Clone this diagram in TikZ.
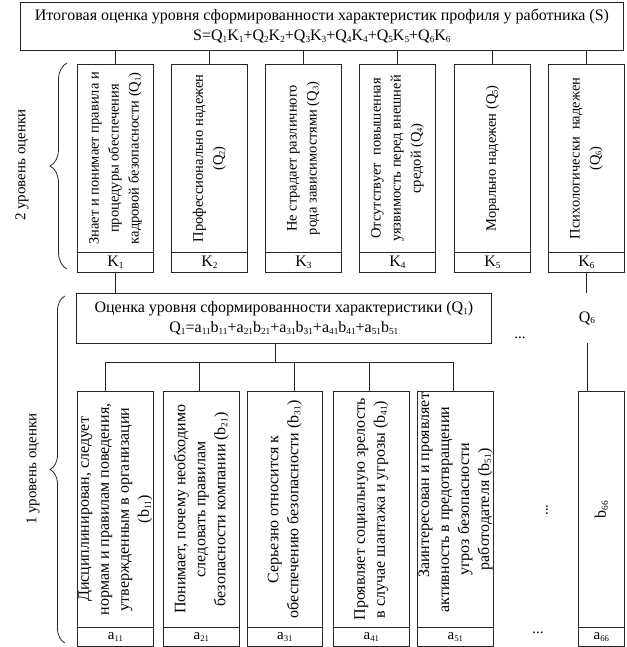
\documentclass[tikz,border=0pt]{standalone}
\usepackage{fontspec}
\usepackage{graphicx}
\setmainfont{Liberation Serif}
\usetikzlibrary{decorations.pathreplacing}
\newcommand\sbx[1]{\raisebox{-0.12em}{\scalebox{0.58}{#1}}}
\begin{document}
\begin{tikzpicture}[x=1pt,y=-1pt,
  ln/.style={line width=0.8pt, draw=black!85},
  box/.style={ln, draw, inner sep=0pt, anchor=north west},
  rottwo/.style={rotate=90, align=center, inner sep=0pt, font=\fontsize{14.5}{20}\selectfont},
  rotone/.style={rotate=90, align=center, inner sep=0pt, font=\fontsize{16}{20}\selectfont},
  lbl/.style={inner sep=0pt, font=\fontsize{15}{18}\selectfont},
  brc/.style={ln, decorate},
  ttl/.style={align=center, font=\fontsize{16}{20}\selectfont}]
\useasboundingbox (0,0) rectangle (626,647);

% top box
\node[box, ttl, minimum width=603pt, minimum height=48pt] (top) at (20,2)
 {Итоговая оценка уровня сформированности характеристик профиля у работника (S)\\
  S=Q\sbx{1}K\sbx{1}+Q\sbx{2}K\sbx{2}+Q\sbx{3}K\sbx{3}+Q\sbx{4}K\sbx{4}+Q\sbx{5}K\sbx{5}+Q\sbx{6}K\sbx{6}};

% level 2 boxes
\foreach \i/\x in {1/77,2/171,3/265,4/359,5/454,6/548} {
  \node[box, minimum width=76pt, minimum height=188pt] (q\i) at (\x,64) {};
  \node[box, lbl, font=\fontsize{16}{18}\selectfont, minimum width=76pt, minimum height=20pt] (k\i) at (\x,252) {K\sbx{\i}};
  \draw[ln] (q\i.north) -- (q\i.north |- top.south);
}
\node[rottwo] (q1t) at (q1.center) {Знает и понимает правила и\\процедуры обеспечения\\кадровой безопасности (Q\sbx{1})};
\node[rottwo] (q2t) at (q2.center) {Профессионально надежен\\(Q\sbx{2})};
\node[rottwo] (q3t) at (q3.center) {Не страдает различного\\рода зависимостями (Q\sbx{3})};
\node[rottwo] (q4t) at (q4.center) {Отсутствует\ \ повышенная\\уязвимость перед внешней\\средой (Q\sbx{4})};
\node[rottwo] (q5t) at (q5.center) {Морально надежен (Q\sbx{5})};
\node[rottwo] (q6t) at (q6.center) {Психологически\ \ надежен\\(Q\sbx{6})};

% level 2 brace
\coordinate (b2lo) at (67,269);
\coordinate (b2hi) at (67,63);
\draw[brc, decoration={brace, amplitude=17pt}] (b2lo) -- (b2hi);
\node[lbl, rotate=90] (lev2) at (22,165) {2 уровень оценки};

% Q1 box
\node[box, ttl, minimum width=415pt, minimum height=50pt] (qq) at (76,293)
 {Оценка уровня сформированности характеристики (Q\sbx{1})\\
  Q\sbx{1}=a\sbx{11}b\sbx{11}+a\sbx{21}b\sbx{21}+a\sbx{31}b\sbx{31}+a\sbx{41}b\sbx{41}+a\sbx{51}b\sbx{51}};
\draw[ln] (k1.south) -- (k1.south |- qq.north);

% Q6 label
\node[lbl, font=\fontsize{16}{18}\selectfont, minimum height=50pt] (q6l) at (587,318) {Q\sbx{6}};
\draw[ln] (k6.south) -- (k6.south |- q6l.north);

% level 1 boxes
\foreach \i/\x/\w/\lab in {1/77/76/11,2/163/76/21,3/247/75/31,4/333/76/41,5/417/76/51,6/578/46/66} {
  \node[box, minimum width=\w pt, minimum height=236pt] (b\i) at (\x,391) {};
  \node[box, lbl, minimum width=\w pt, minimum height=19pt] (a\i) at (\x,627) {a\sbx{\lab}};
}
\node[rotone] (b1t) at (b1.center) {Дисциплинирован, следует\\нормам и правилам поведения,\\утвержденным в организации\\(b\sbx{11})};
\node[rotone] (b2t) at (b2.center) {Понимает, почему необходимо\\следовать правилам\\безопасности компании (b\sbx{21})};
\node[rotone] (b3t) at (b3.center) {Серьезно относится к\\обеспечению безопасности (b\sbx{31})};
\node[rotone] (b4t) at (b4.center) {Проявляет социальную зрелость\\в случае шантажа и угрозы (b\sbx{41})};
\node[rotone] (b5t) at (b5.center) {\hspace*{48pt}Заинтересован и проявляет\\активность в предотвращении\\угроз безопасности\\работодателя (b\sbx{51})};
\node[rotone] (b6t) at (b6.center) {b\sbx{66}};

% connectors level 1
\coordinate (stem) at (275,362);
\coordinate (j1) at (105,362);
\coordinate (j2) at (199,362);
\coordinate (j3) at (294,362);
\coordinate (j4) at (369,362);
\coordinate (j5) at (453,362);
\draw[ln] (stem |- qq.south) -- (stem);
\draw[ln] (j1) -- (j5);
\foreach \i in {1,...,5} { \draw[ln] (j\i) -- (j\i |- b\i.north); }
\draw[ln] (q6l.south) -- (q6l.south |- b6.north);

% level 1 brace
\coordinate (b1lo) at (65,643);
\coordinate (b1hi) at (65,296);
\draw[brc, decoration={brace, amplitude=15pt}] (b1lo) -- (b1hi);
\node[lbl, rotate=90] (lev1) at (33,469) {1 уровень оценки};

% dots
\node[lbl] (d1) at (520,338) {...};
\node[lbl, rotate=90] (d2) at (547,510) {...};
\node[lbl] (d3) at (538,633) {...};
\end{tikzpicture}
\end{document}
